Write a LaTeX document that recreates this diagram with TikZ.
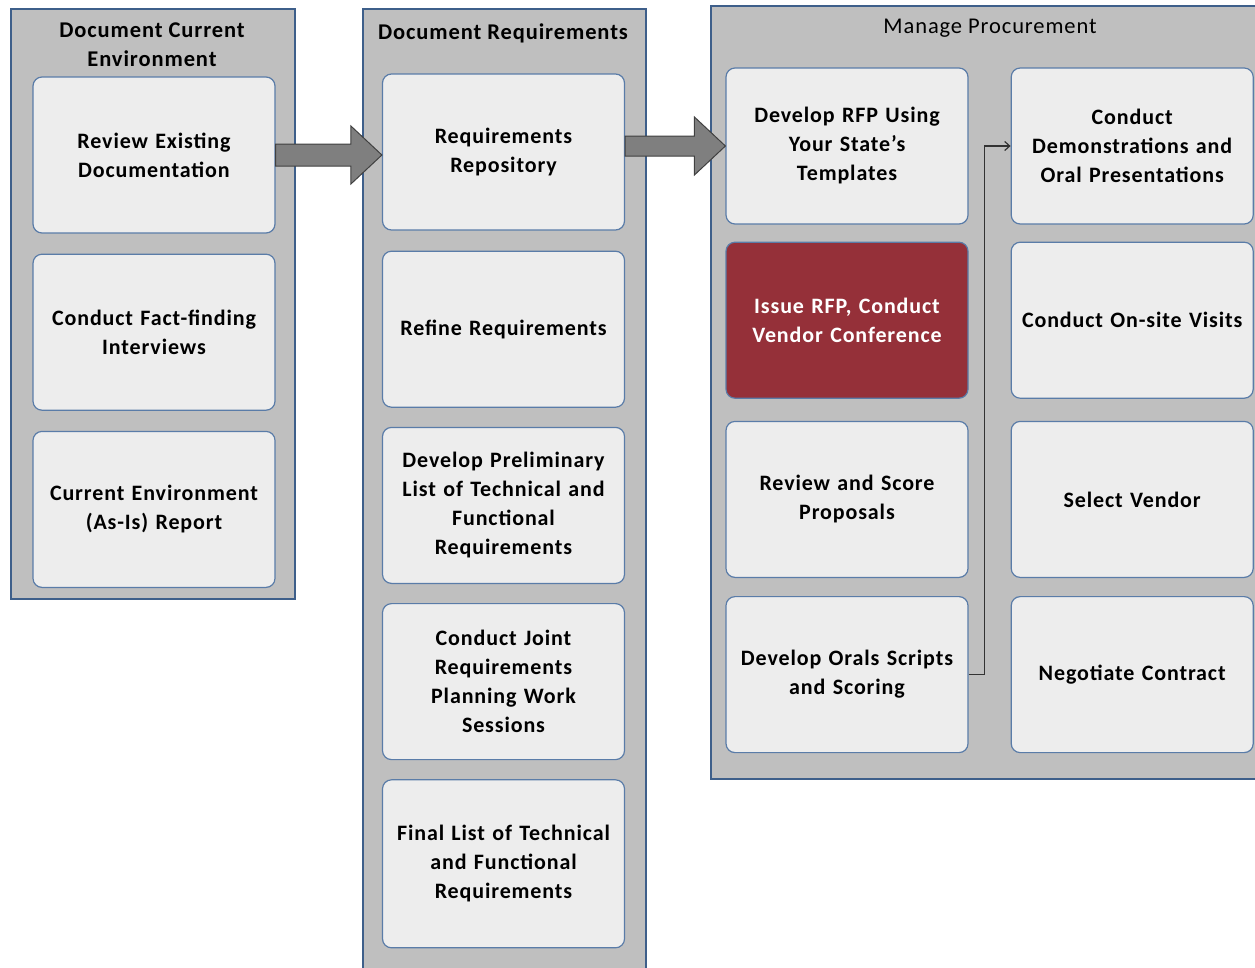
\documentclass[tikz,border=0pt]{standalone}
\usepackage{fontspec}
\setmainfont{Carlito}[LetterSpace=4]
\usetikzlibrary{positioning,calc,arrows.meta}
\definecolor{panelgray}{HTML}{BFBFBF}
\definecolor{panelblue}{HTML}{3E5F8A}
\definecolor{boxblue}{HTML}{5A7CA8}
\definecolor{boxfill}{HTML}{EDEDED}
\definecolor{hotred}{HTML}{953039}
\definecolor{arrowgray}{HTML}{7F7F7F}
\tikzset{
    panel/.style={draw=panelblue, line width=1.6pt, fill=panelgray,
        anchor=north west, inner sep=0pt},
    paneltitle/.style={font=\fontsize{22.5}{29}\selectfont\bfseries, align=center},
    stepbox/.style={draw=boxblue, line width=1.2pt, fill=boxfill, rounded corners=9pt,
        minimum width=242pt, minimum height=156pt, text width=230pt,
        align=center, inner sep=0pt, font=\fontsize{22}{29}\selectfont\bfseries},
    hotbox/.style={stepbox, fill=hotred, text=white},
    bigarrow/.style={draw=black!75, line width=1pt, fill=arrowgray},
    link/.style={draw=black!80, line width=1.2pt, -{Straight Barb[length=5pt,width=9pt]}}
}

\begin{document}
\begin{tikzpicture}[x=1pt, y=-1pt, node distance=20pt]
\useasboundingbox (0,0) rectangle (1255,967);

% Document Current Environment
\node[panel, minimum width=284pt, minimum height=590pt] (envpanel) at (10,8) {};
\node[paneltitle] (envtitle) at (152,45) {Document Current\\Environment};
\node[stepbox] (review) at (154,155) {Review Existing\\Documentation};
\node[stepbox, below=of review] (factfind) {Conduct Fact-finding\\Interviews};
\node[stepbox, below=of factfind] (asis) {Current Environment\\(As-Is) Report};

% Document Requirements
\node[panel, minimum width=283pt, minimum height=980pt] (reqpanel) at (362,8) {};
\node[paneltitle] (reqtitle) at (503,33) {Document Requirements};
\node[stepbox] (repo) at (503.5,152) {Requirements\\Repository};
\node[stepbox, below=of repo] (refine) {Refine Requirements};
\node[stepbox, below=19pt of refine] (prelim) {Develop Preliminary\\List of Technical and\\Functional\\Requirements};
\node[stepbox, below=19pt of prelim] (joint) {Conduct Joint\\Requirements\\Planning Work\\Sessions};
\node[stepbox, below=19pt of joint, minimum height=168pt] (final) {Final List of Technical\\and Functional\\Requirements};

% Manage Procurement
\node[panel, minimum width=560pt, minimum height=773pt] (procpanel) at (710,5) {};
\node[paneltitle, font=\fontsize{22.5}{29}\selectfont] (proctitle) at (990,28) {Manage Procurement};
\node[stepbox] (devrfp) at (847,146) {Develop RFP Using\\Your State’s\\Templates};
\node[hotbox, below=17pt of devrfp] (issue) {Issue RFP, Conduct\\Vendor Conference};
\node[stepbox, below=22pt of issue] (score) {Review and Score\\Proposals};
\node[stepbox, below=18pt of score] (orals) {Develop Orals Scripts\\and Scoring};
\node[stepbox, right=42pt of devrfp] (demo) {Conduct\\Demonstrations and\\Oral Presentations};
\node[stepbox, right=42pt of issue] (onsite) {Conduct On-site Visits};
\node[stepbox, right=42pt of score] (select) {Select Vendor};
\node[stepbox, right=42pt of orals] (negotiate) {Negotiate Contract};

% block arrows between the phases
\path[bigarrow] ($(review.east)+(0,-11)$) -- ($(review.east -| repo.west)+(-31,-11)$)
    -- ++(0,-18) -- (review.east -| repo.west) -- ($(review.east -| repo.west)+(-31,29)$)
    -- ++(0,-18) -- ($(review.east)+(0,11)$) -- cycle;
\path[bigarrow] ($(repo.east |- devrfp.west)+(0,-10)$) -- ($(devrfp.west)+(-31,-10)$)
    -- ++(0,-19) -- (devrfp.west) -- ($(devrfp.west)+(-31,29)$)
    -- ++(0,-19) -- ($(repo.east |- devrfp.west)+(0,10)$) -- cycle;

\draw[link] (orals.east) -- ++(16,0) |- (demo.west);
\end{tikzpicture}
\end{document}
